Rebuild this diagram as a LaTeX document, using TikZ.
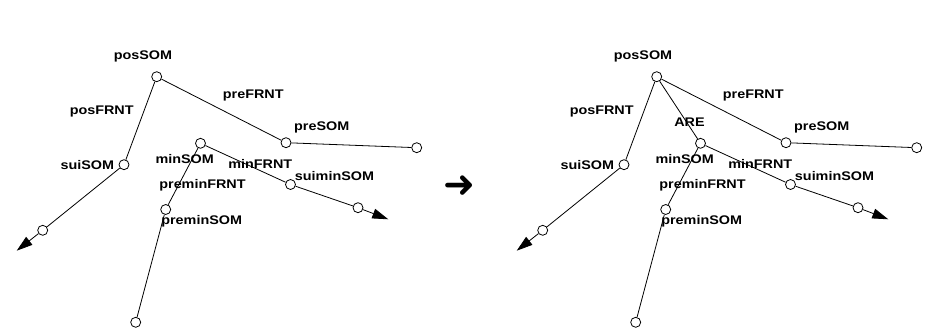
\documentclass[tikz,border=0pt]{standalone}
\usepackage{fontspec}
\setmainfont{Liberation Sans}
\newfontfamily\symfont{DejaVu Sans}
\usetikzlibrary{arrows.meta}
\newcommand\wlbl[1]{\scalebox{1.15}[1]{#1}}
\tikzset{
  vtx/.style={circle,draw,fill=white,minimum size=10pt,inner sep=0pt,line width=0.8pt},
  lab/.style={font=\bfseries\fontsize{12.5}{14}\selectfont,inner sep=0pt},
  edge/.style={line width=0.8pt},
  tipedge/.style={line width=0.8pt,-{Triangle[length=16pt,width=10pt]}},
  tree/.pic={
    \node[vtx] (a) at (156.7,76.7) {};
    \node[vtx] (b) at (286,142.7) {};
    \node[vtx] (c) at (416.7,147.7) {};
    \node[vtx] (d) at (124,164.7) {};
    \node[vtx] (e) at (42.7,230.3) {};
    \coordinate (f) at (16.7,250.7);
    \node[vtx] (g) at (200.5,143.3) {};
    \node[vtx] (h) at (290.5,184.5) {};
    \node[vtx] (i) at (358,207.7) {};
    \coordinate (j) at (388.3,219.3);
    \node[vtx] (k) at (165.7,209.5) {};
    \node[vtx] (l) at (135.7,322.3) {};
    \draw[edge] (a) -- (b);
    \draw[edge] (b) -- (c);
    \draw[edge] (a) -- (d);
    \draw[edge] (d) -- (e);
    \draw[tipedge] (e) -- (f);
    \draw[edge] (g) -- (h);
    \draw[edge] (h) -- (i);
    \draw[tipedge] (i) -- (j);
    \draw[edge] (g) -- (k);
    \draw[edge] (k) -- (l);
    \node[lab] (tposSOM) at (143,56.7) {\wlbl{posSOM}};
    \node[lab] (tpreFRNT) at (253.3,95.3) {\wlbl{preFRNT}};
    \node[lab] (tposFRNT) at (101.7,112) {\wlbl{posFRNT}};
    \node[lab] (tpreSOM) at (321.7,127.3) {\wlbl{preSOM}};
    \node[lab] (tsuiSOM) at (87.3,165) {\wlbl{suiSOM}};
    \node[lab] (tminSOM) at (184.7,159.3) {\wlbl{minSOM}};
    \node[lab] (tminFRNT) at (260.3,164.3) {\wlbl{minFRNT}};
    \node[lab] (tsuiminSOM) at (334.5,175.8) {\wlbl{suiminSOM}};
    \node[lab] (tpreminFRNT) at (202.5,185) {\wlbl{preminFRNT}};
    \node[lab] (tpreminSOM) at (201.7,221.5) {\wlbl{preminSOM}};
  }
}
\begin{document}
\begin{tikzpicture}[x=1pt,y=-1pt]
  \useasboundingbox (0,0) rectangle (934,328);
  \pic (L-) at (0,0) {tree};
  \pic (R-) at (500,0) {tree};
  \draw[edge] (R-a) -- (R-g);
  \node[lab] (tARE) at (689.5,122.3) {\wlbl{ARE}};
  \node[inner sep=0pt,font=\symfont\fontsize{38}{38}\selectfont] (bigarrow) at (459.5,186.5) {➜};
\end{tikzpicture}
\end{document}
